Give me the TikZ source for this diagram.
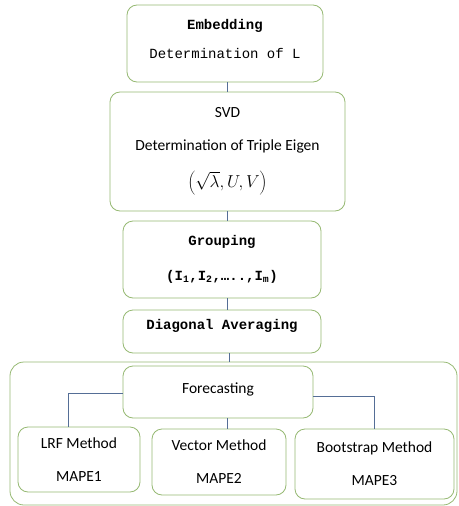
\documentclass[tikz,border=0pt]{standalone}
\usepackage{fontspec}
\setmainfont{Carlito}
\newfontfamily\cour{Liberation Mono}
\definecolor{boxgreen}{RGB}{150,185,115}
\definecolor{connblue}{RGB}{85,110,150}
\begin{document}
\begin{tikzpicture}[x=1pt,y=-1pt,
  box/.style={draw=boxgreen, line width=0.8pt, rounded corners=10pt, fill=white,
    align=center, inner sep=0pt, font=\fontsize{15.5}{19}\selectfont},
  monobox/.style={box, font=\cour\fontsize{14}{17}\selectfont},
  conn/.style={draw=connblue, line width=0.8pt}]
\useasboundingbox (0,0) rectangle (458,506);
\node[draw=boxgreen, line width=0.8pt, rounded corners=14pt, minimum width=447pt, minimum height=143pt, inner sep=0pt] (outer) at (233.5,433.5) {};
\node[monobox, minimum width=196pt, minimum height=77pt] (emb) at (225,43.5)
  {\textbf{Embedding}\\[12pt]Determination of L\\[-8pt]};
\node[box, minimum width=235pt, minimum height=119pt] (svd) at (227.5,151.5)
  {SVD\\[14pt]Determination of Triple Eigen\\[18pt]{\fontsize{16}{19}\selectfont$\biggl(\sqrt{\lambda},U,V\biggr)$}};
\node[monobox, minimum width=198pt, minimum height=77pt] (grp) at (222,259.5)
  {\textbf{Grouping}\\[18pt]\textbf{(I\textsubscript{1},I\textsubscript{2},…..,I\textsubscript{m})}};
\node[monobox, minimum width=198pt, minimum height=43pt] (diag) at (222,331.5)
  {\textbf{Diagonal Averaging}\\[-2pt]};
\node[box, minimum width=190pt, minimum height=52pt] (fc) at (218,392)
  {Forecasting\\[-12pt]};
\node[box, minimum width=122pt, minimum height=65pt] (lrf) at (79,459.5)
  {LRF Method\\[14pt]MAPE1};
\node[box, minimum width=134pt, minimum height=66pt] (vec) at (219,462)
  {Vector Method\\[14pt]MAPE2};
\node[box, minimum width=159pt, minimum height=70pt] (boot) at (374.5,464)
  {Bootstrap Method\\[14pt]MAPE3};
\draw[conn] (svd.north |- emb.south) -- (svd.north);
\draw[conn] (svd.south) -- (svd.south |- grp.north);
\draw[conn] ([xshift=5pt]grp.south) -- ([xshift=5pt]diag.north);
\draw[conn] ([xshift=7pt]diag.south) -- ([xshift=7pt]diag.south |- outer.north);
\draw[conn] ([yshift=-1pt]fc.west) -| ([xshift=-11pt]lrf.north);
\draw[conn] ([xshift=9pt]fc.south) -- ([xshift=9pt]fc.south |- vec.north);
\draw[conn] ([yshift=-4pt]fc.east) -| (boot.north);
\end{tikzpicture}
\end{document}
